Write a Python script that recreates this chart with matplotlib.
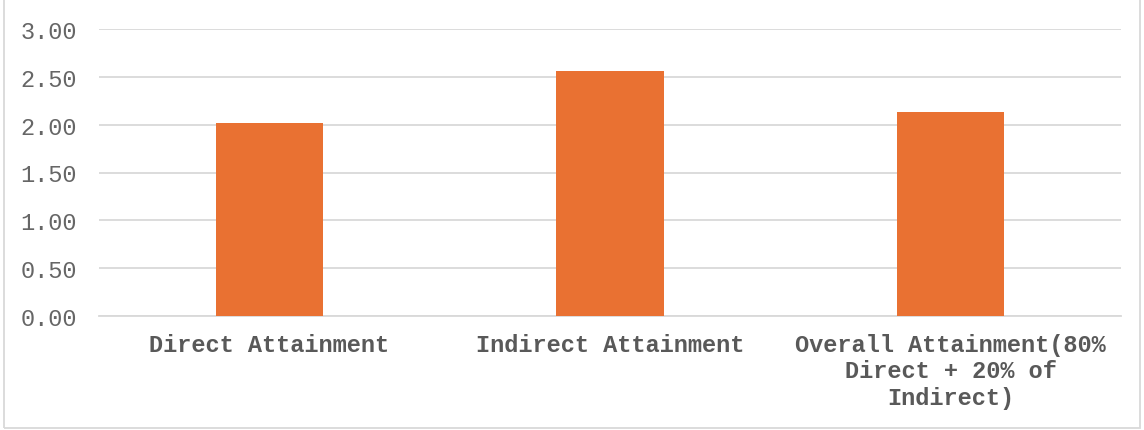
import matplotlib.pyplot as plt
from matplotlib.patches import Rectangle

categories = ["Direct Attainment",
              "Indirect Attainment",
              "Overall Attainment(80%\nDirect + 20% of\nIndirect)"]
values = [2.02, 2.56, 2.13]
yticks = [0.0, 0.5, 1.0, 1.5, 2.0, 2.5, 3.0]

W, H = 1144, 431
fig = plt.figure(figsize=(W / 100, H / 100), dpi=100)
ax = fig.add_axes([99 / W, 1 - 317 / H, (1121 - 99) / W, (317 - 30) / H])

x = range(len(categories))
ax.bar(x, values, width=0.315, color="#E97132", zorder=3)

ax.set_xlim(-0.5, len(categories) - 0.5)
ax.set_ylim(0, 3)
ax.set_yticks(yticks)
ax.set_yticklabels([f"{v:.2f}" for v in yticks], family="Liberation Mono",
                   fontsize=17, color="#666666")
ax.set_xticks(list(x))
ax.set_xticklabels(categories, family="Liberation Mono", fontsize=17,
                   fontweight="bold", color="#595959", linespacing=1.2)
ax.tick_params(axis="y", length=0, pad=16)
ax.tick_params(axis="x", length=0, pad=12)

ax.grid(axis="y", color="#d9d9d9", linewidth=1.3, zorder=0)
for s in ["top", "right", "left"]:
    ax.spines[s].set_visible(False)
ax.spines["bottom"].set_color("#d9d9d9")
ax.spines["bottom"].set_linewidth(1.3)

# chart area border
fig.patches.append(Rectangle((4 / W, 2 / H), (1140 - 4) / W, 1.0,
                             transform=fig.transFigure, fill=False,
                             edgecolor="#d9d9d9", linewidth=1.3))

fig.savefig("out.png", dpi=100)
